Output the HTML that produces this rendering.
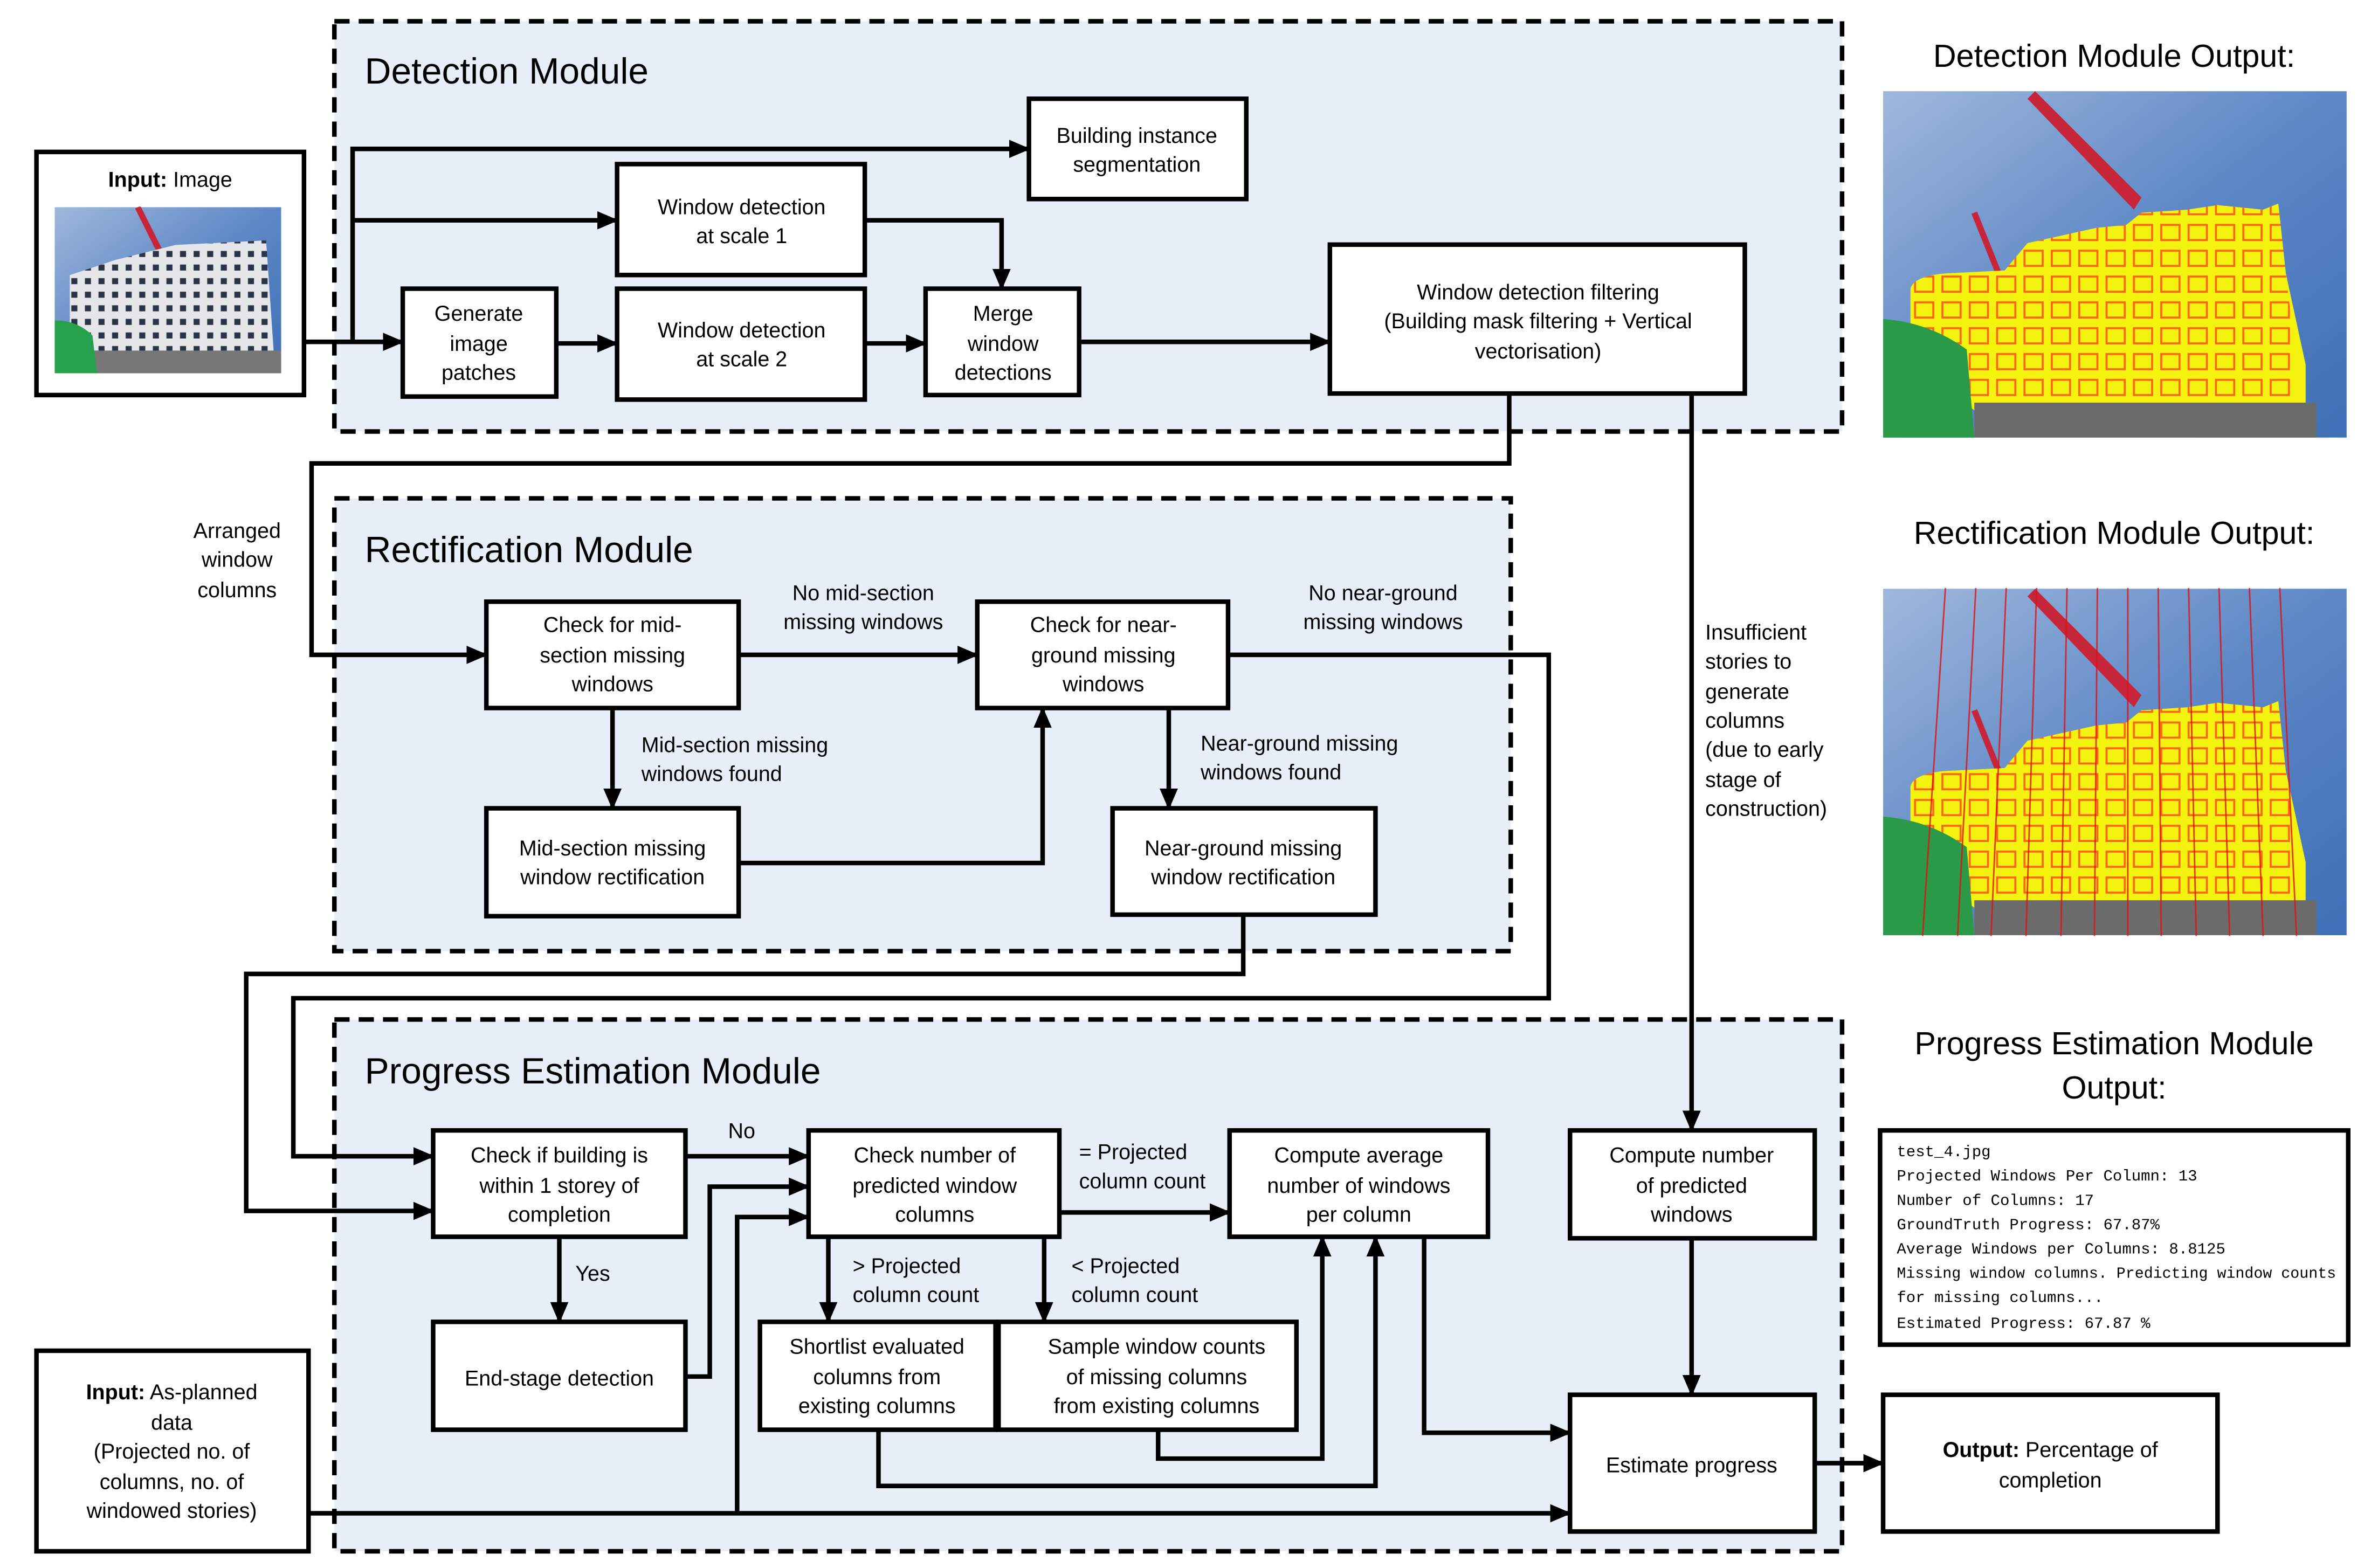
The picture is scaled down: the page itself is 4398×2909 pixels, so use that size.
<!DOCTYPE html>
<html><head><meta charset="utf-8"><style>
html,body{margin:0;padding:0;background:#fff;}
svg{display:block;}
text{font-family:"Liberation Sans",sans-serif;fill:#000;}
.b{font-size:14px;}
.t{font-size:24px;}
.h{font-size:21px;}
.m text{font-family:"Liberation Mono",monospace;font-size:10.3px;}
</style></head><body>
<svg width="4398" height="2909" viewBox="0 0 1560 1032" preserveAspectRatio="none" xmlns="http://www.w3.org/2000/svg">
<defs>
<marker id="a" markerUnits="userSpaceOnUse" markerWidth="14" markerHeight="14" refX="13" refY="7" orient="auto"><path d="M0,1 L14,7 L0,13 Z" fill="#000"/></marker>
<linearGradient id="sky" x1="0" y1="0" x2="1" y2="1"><stop offset="0" stop-color="#9fb8dc"/><stop offset="0.5" stop-color="#5d87c6"/><stop offset="1" stop-color="#3f6fb5"/></linearGradient>
<pattern id="win" width="18" height="17" patternUnits="userSpaceOnUse"><rect x="3" y="3" width="12" height="10" fill="none" stroke="#ff4b1a" stroke-width="1.3"/></pattern>
<pattern id="bw" width="9" height="9" patternUnits="userSpaceOnUse"><rect width="9" height="9" fill="#e4e6ea"/><rect x="2" y="2" width="4" height="4" fill="#2a3444"/></pattern>
<symbol id="out" viewBox="0 0 305 228">
<rect width="305" height="228" fill="url(#sky)"/>
<path d="M100,0 L170,70 L165,78 L95,5Z" fill="#c7263a"/>
<path d="M60,80 L80,130" stroke="#c7263a" stroke-width="4"/>
<path d="M18,130 Q20,122 40,120 L80,118 L95,100 L140,90 L160,88 L170,80 L200,78 L220,75 L250,78 L260,74 L265,120 L278,180 L278,210 L60,210 L18,175Z" fill="#f4f20f"/>
<path d="M18,130 Q20,122 40,120 L80,118 L95,100 L140,90 L160,88 L170,80 L200,78 L220,75 L250,78 L260,74 L265,120 L272,180 L272,205 L60,205 L22,170Z" fill="url(#win)" opacity="0.85"/>
<rect x="60" y="205" width="225" height="23" fill="#6b6b6b"/>
<path d="M0,150 Q30,152 55,170 L60,228 L0,228Z" fill="#2a9a48"/>
</symbol>
<symbol id="inp" viewBox="0 0 150 110">
<rect width="150" height="110" fill="url(#sky)"/>
<path d="M55,0 L75,40" stroke="#c7263a" stroke-width="4"/>
<path d="M10,45 L40,35 L80,25 L140,22 L145,95 L10,100Z" fill="url(#bw)"/>
<rect x="10" y="95" width="140" height="15" fill="#777"/>
<path d="M0,75 Q15,75 25,85 L28,110 L0,110Z" fill="#27a04c"/>
</symbol>
</defs>

<g fill="#e8eef8" stroke="#000" stroke-width="3" stroke-dasharray="10,6">
<rect x="220" y="14" width="992" height="270"/>
<rect x="220" y="328" width="774" height="298"/>
<rect x="220" y="671" width="992" height="350"/>
</g>
<text class="t" x="240" y="55">Detection Module</text>
<text class="t" x="240" y="370">Rectification Module</text>
<text class="t" x="240" y="713">Progress Estimation Module</text>

<g fill="none" stroke="#000" stroke-width="3">
<path d="M200,225 H265" marker-end="url(#a)"/>
<path d="M232,225 V98 H677" marker-end="url(#a)"/>
<path d="M232,145 H406" marker-end="url(#a)"/>
<path d="M366,226 H406" marker-end="url(#a)"/>
<path d="M569,145 H659 V190" marker-end="url(#a)"/>
<path d="M569,226 H609" marker-end="url(#a)"/>
<path d="M710,225 H875" marker-end="url(#a)"/>
<path d="M993,259 V305 H205 V431 H320" marker-end="url(#a)"/>
<path d="M1113,259 V744" marker-end="url(#a)"/>
<path d="M486,431 H643" marker-end="url(#a)"/>
<path d="M403,466 V532" marker-end="url(#a)"/>
<path d="M486,568 H686 V466" marker-end="url(#a)"/>
<path d="M769,466 V532" marker-end="url(#a)"/>
<path d="M808,431 H1019 V657 H193 V761 H285" marker-end="url(#a)"/>
<path d="M818,602 V641 H162 V797 H285" marker-end="url(#a)"/>
<path d="M451,761 H532" marker-end="url(#a)"/>
<path d="M368,814 V870" marker-end="url(#a)"/>
<path d="M451,906 H467 V781 H532" marker-end="url(#a)"/>
<path d="M203,996 H1033" marker-end="url(#a)"/>
<path d="M485,996 V801 H532" marker-end="url(#a)"/>
<path d="M697,798 H809" marker-end="url(#a)"/>
<path d="M545,814 V870" marker-end="url(#a)"/>
<path d="M687,814 V870" marker-end="url(#a)"/>
<path d="M578,941 V978 H905 V814" marker-end="url(#a)"/>
<path d="M762,941 V960 H870 V814" marker-end="url(#a)"/>
<path d="M1113,815 V918" marker-end="url(#a)"/>
<path d="M937,814 V943 H1033" marker-end="url(#a)"/>
<path d="M1194,963 H1239" marker-end="url(#a)"/>
</g>

<g fill="#fff" stroke="#000" stroke-width="3">
<rect x="24" y="100" width="176" height="160"/>
<rect x="265" y="190" width="101" height="71"/>
<rect x="406" y="108" width="163" height="73"/>
<rect x="406" y="190" width="163" height="73"/>
<rect x="677" y="65" width="143" height="66"/>
<rect x="609" y="190" width="101" height="70"/>
<rect x="875" y="161" width="273" height="98"/>
<rect x="320" y="396" width="166" height="70"/>
<rect x="643" y="396" width="165" height="70"/>
<rect x="320" y="532" width="166" height="71"/>
<rect x="732" y="532" width="173" height="70"/>
<rect x="285" y="744" width="166" height="70"/>
<rect x="285" y="870" width="166" height="71"/>
<rect x="532" y="744" width="165" height="70"/>
<rect x="809" y="744" width="170" height="70"/>
<rect x="500" y="870" width="155" height="71"/>
<rect x="657" y="870" width="196" height="71"/>
<rect x="1033" y="744" width="161" height="71"/>
<rect x="1033" y="918" width="161" height="90"/>
<rect x="24" y="889" width="179" height="132"/>
<rect x="1239" y="918" width="220" height="90"/>
<rect x="1237" y="744" width="308" height="141"/>
</g>
<use href="#inp" x="36" y="136" width="149" height="110"/>
<use href="#out" x="1239" y="60" width="305" height="228"/>
<use href="#out" x="1239" y="387" width="305" height="229"/>
<g stroke="#e01010" stroke-width="1" opacity="0.8">
<path d="M1280,387 L1265,616 M1300,387 L1288,616 M1320,387 L1310,616 M1340,387 L1333,616 M1360,387 L1356,616 M1380,387 L1378,616 M1400,387 L1400,616 M1420,387 L1422,616 M1440,387 L1445,616 M1460,387 L1467,616 M1480,387 L1489,616 M1500,387 L1511,616"/>
</g>

<g class="b" text-anchor="middle">
<text x="112" y="123"><tspan font-weight="bold">Input:</tspan> Image</text>
<text x="315" y="211">Generate</text><text x="315" y="231">image</text><text x="315" y="250">patches</text>
<text x="488" y="141">Window detection</text><text x="488" y="160">at scale 1</text>
<text x="488" y="222">Window detection</text><text x="488" y="241">at scale 2</text>
<text x="748" y="94">Building instance</text><text x="748" y="113">segmentation</text>
<text x="660" y="211">Merge</text><text x="660" y="231">window</text><text x="660" y="250">detections</text>
<text x="1012" y="197">Window  detection  filtering</text><text x="1012" y="216">(Building mask filtering + Vertical</text><text x="1012" y="236">vectorisation)</text>
<text x="403" y="416">Check for mid-</text><text x="403" y="436">section missing</text><text x="403" y="455">windows</text>
<text x="726" y="416">Check for near-</text><text x="726" y="436">ground missing</text><text x="726" y="455">windows</text>
<text x="403" y="563">Mid-section missing</text><text x="403" y="582">window rectification</text>
<text x="818" y="563">Near-ground missing</text><text x="818" y="582">window rectification</text>
<text x="368" y="765">Check if building is</text><text x="368" y="785">within 1 storey of</text><text x="368" y="804">completion</text>
<text x="368" y="912">End-stage detection</text>
<text x="615" y="765">Check number of</text><text x="615" y="785">predicted window</text><text x="615" y="804">columns</text>
<text x="894" y="765">Compute average</text><text x="894" y="785">number of windows</text><text x="894" y="804">per column</text>
<text x="577" y="891">Shortlist evaluated</text><text x="577" y="911">columns from</text><text x="577" y="930">existing columns</text>
<text x="761" y="891">Sample window counts</text><text x="761" y="911">of missing columns</text><text x="761" y="930">from existing columns</text>
<text x="1113" y="765">Compute number</text><text x="1113" y="785">of predicted</text><text x="1113" y="804">windows</text>
<text x="1113" y="969">Estimate progress</text>
<text x="113" y="921"><tspan font-weight="bold">Input:</tspan> As-planned</text><text x="113" y="941">data</text><text x="113" y="960">(Projected no. of</text><text x="113" y="980">columns, no. of</text><text x="113" y="999">windowed stories)</text>
<text x="1349" y="959"><tspan font-weight="bold">Output:</tspan> Percentage of</text><text x="1349" y="979">completion</text>
<text x="156" y="354">Arranged</text><text x="156" y="373">window</text><text x="156" y="393">columns</text>
<text x="568" y="395">No mid-section</text><text x="568" y="414">missing windows</text>
<text x="910" y="395">No near-ground</text><text x="910" y="414">missing windows</text>
<text x="488" y="749">No</text>
<text x="390" y="843">Yes</text>
</g>
<g class="b">
<text x="422" y="495">Mid-section missing</text><text x="422" y="514">windows found</text>
<text x="790" y="494">Near-ground missing</text><text x="790" y="513">windows found</text>
<text x="710" y="763">= Projected</text><text x="710" y="782">column count</text>
<text x="561" y="838">&gt; Projected</text><text x="561" y="857">column count</text>
<text x="705" y="838">&lt; Projected</text><text x="705" y="857">column count</text>
<text x="1122" y="421">Insufficient</text><text x="1122" y="440">stories to</text><text x="1122" y="460">generate</text><text x="1122" y="479">columns</text><text x="1122" y="498">(due to early</text><text x="1122" y="518">stage of</text><text x="1122" y="537">construction)</text>
</g>
<g class="h" text-anchor="middle">
<text x="1391" y="44">Detection Module Output:</text>
<text x="1391" y="358">Rectification Module Output:</text>
<text x="1391" y="694">Progress Estimation Module</text>
<text x="1391" y="723">Output:</text>
</g>
<g class="m">
<text x="1248" y="761">test_4.jpg</text>
<text x="1248" y="777">Projected Windows Per Column:  13</text>
<text x="1248" y="793">Number of Columns:  17</text>
<text x="1248" y="809">GroundTruth Progress:  67.87%</text>
<text x="1248" y="825">Average Windows per Columns:  8.8125</text>
<text x="1248" y="841" textLength="289" lengthAdjust="spacingAndGlyphs">Missing window columns. Predicting window counts</text>
<text x="1248" y="857">for missing columns...</text>
<text x="1248" y="874">Estimated Progress: 67.87 %</text>
</g>
</svg>
</body></html>
